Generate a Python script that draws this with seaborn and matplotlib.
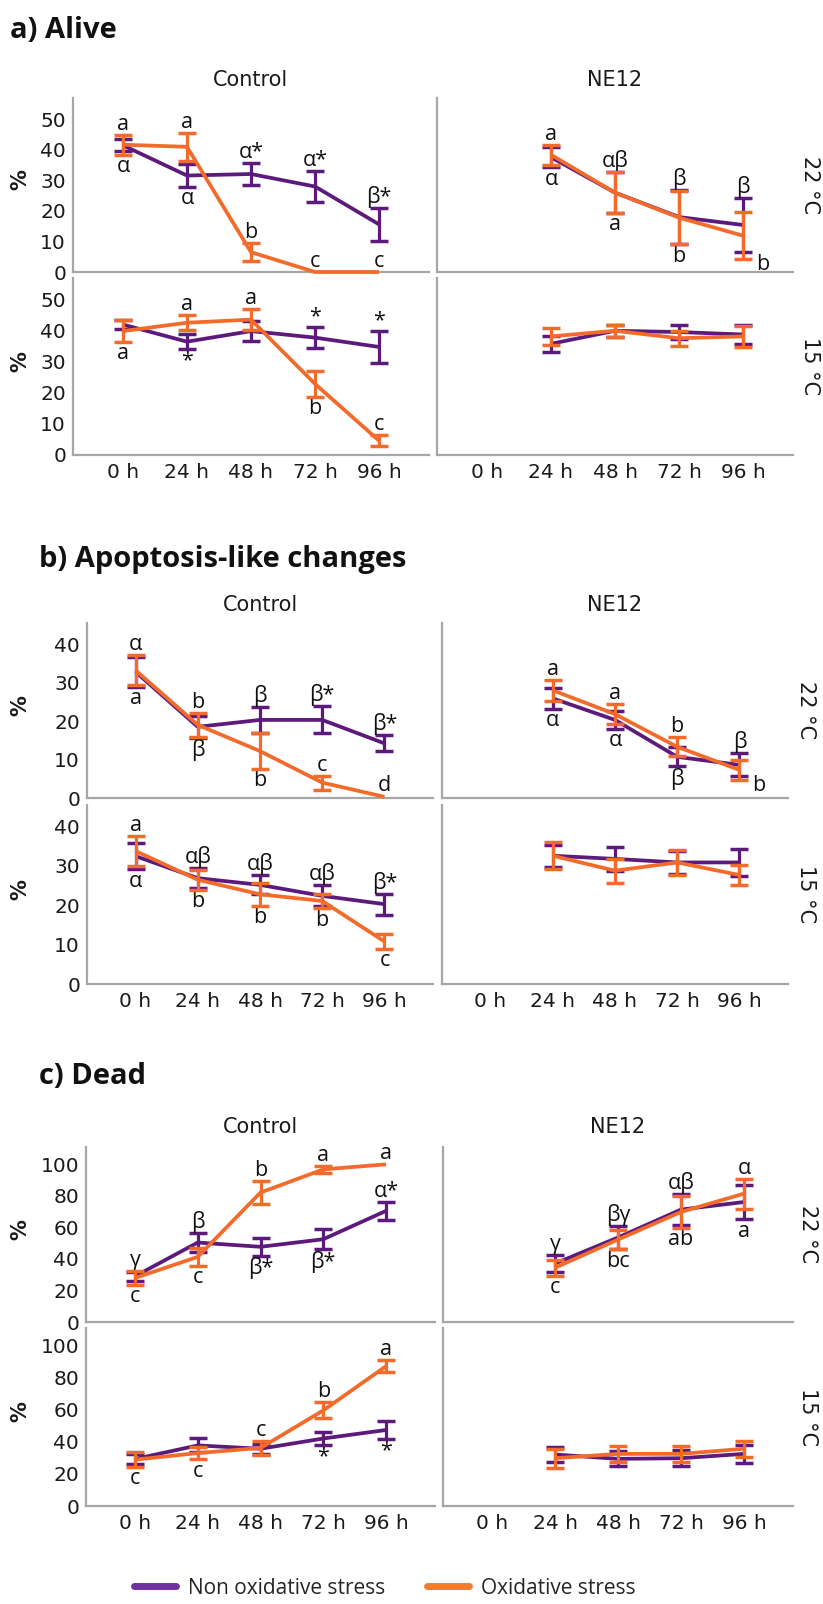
import numpy as np
import pandas as pd
import matplotlib
matplotlib.use("Agg")
import matplotlib.pyplot as plt
import seaborn as sns
from matplotlib.lines import Line2D

sns.set_theme(style="white")
plt.rcParams['font.family'] = ['DejaVu Sans']

# ---------------- data ----------------
TIMES = ["0 h", "24 h", "48 h", "72 h", "96 h"]
SERIES = ["Non oxidative stress", "Oxidative stress"]
COLUMNS = ["Control", "NE12"]
ROWS = ["22 °C", "15 °C"]

# a) Alive
alive_c22_non = [41.5, 31.6, 32.1, 28.0, 15.6]
alive_c22_non_err = [2.0, 3.7, 3.6, 5.2, 5.4]
alive_c22_ox = [41.7, 41.0, 6.5, 0.0, 0.0]
alive_c22_ox_err = [3.3, 4.5, 3.0, 0.0, 0.0]
alive_c22_non_lbl = ["α", "α", "α*", "α*", "β*"]
alive_c22_ox_lbl = ["a", "a", "b", "c", "c"]

alive_c15_non = [42.0, 36.5, 39.9, 37.8, 34.8]
alive_c15_non_err = [1.5, 2.4, 3.1, 3.5, 5.2]
alive_c15_ox = [39.9, 42.6, 43.6, 22.9, 4.6]
alive_c15_ox_err = [3.5, 2.4, 3.3, 4.2, 1.8]
alive_c15_non_lbl = ["", "*", "", "*", "*"]
alive_c15_ox_lbl = ["a", "a", "a", "b", "c"]

alive_n22_non = [None, 37.6, 26.0, 18.0, 15.4]
alive_n22_non_err = [0, 3.3, 6.7, 8.7, 8.9]
alive_n22_ox = [None, 38.4, 26.0, 17.8, 11.9]
alive_n22_ox_err = [0, 3.2, 6.7, 8.7, 7.7]
alive_n22_non_lbl = ["", "α", "αβ", "β", "β"]
alive_n22_ox_lbl = ["", "a", "a", "b", "b"]

alive_n15_non = [None, 35.8, 40.0, 39.6, 38.8]
alive_n15_non_err = [0, 2.5, 2.0, 2.4, 3.2]
alive_n15_ox = [None, 38.2, 40.0, 37.6, 38.2]
alive_n15_ox_err = [0, 2.8, 2.0, 2.4, 3.5]

# b) Apoptosis-like changes
apo_c22_non = [32.8, 18.5, 20.3, 20.3, 14.2]
apo_c22_non_err = [3.9, 2.8, 3.3, 3.5, 2.1]
apo_c22_ox = [33.2, 19.0, 12.2, 4.0, 0.3]
apo_c22_ox_err = [3.9, 3.2, 4.6, 1.8, 0.3]
apo_c22_non_lbl = ["α", "β", "β", "β*", "β*"]
apo_c22_ox_lbl = ["a", "b", "b", "c", "d"]

apo_c15_non = [32.5, 26.9, 25.2, 22.4, 20.3]
apo_c15_non_err = [3.3, 2.6, 2.4, 2.7, 2.7]
apo_c15_ox = [33.8, 26.5, 22.8, 21.1, 10.8]
apo_c15_ox_err = [3.7, 2.5, 3.0, 1.9, 1.9]
apo_c15_non_lbl = ["α", "αβ", "αβ", "αβ", "β*"]
apo_c15_ox_lbl = ["a", "b", "b", "b", "c"]

apo_n22_non = [None, 25.9, 20.3, 10.7, 8.6]
apo_n22_non_err = [0, 2.7, 2.3, 2.5, 3.0]
apo_n22_ox = [None, 28.0, 21.8, 13.3, 7.3]
apo_n22_ox_err = [0, 2.7, 2.6, 2.5, 2.5]
apo_n22_non_lbl = ["", "α", "α", "β", "β"]
apo_n22_ox_lbl = ["", "a", "a", "b", "b"]

apo_n15_non = [None, 32.6, 31.8, 30.9, 30.9]
apo_n15_non_err = [0, 2.8, 3.0, 2.9, 3.4]
apo_n15_ox = [None, 32.6, 28.8, 30.9, 27.7]
apo_n15_ox_err = [0, 3.4, 3.0, 3.2, 2.6]

# c) Dead
dead_c22_non = [29.0, 50.4, 47.7, 52.5, 70.5]
dead_c22_non_err = [2.8, 6.0, 5.8, 6.4, 5.8]
dead_c22_ox = [27.9, 41.3, 82.1, 96.8, 100.0]
dead_c22_ox_err = [4.4, 5.6, 7.4, 2.0, 0.5]
dead_c22_non_lbl = ["γ", "β", "β*", "β*", "α*"]
dead_c22_ox_lbl = ["c", "c", "b", "a", "a"]

dead_c15_non = [29.3, 37.8, 35.7, 42.1, 47.4]
dead_c15_non_err = [3.0, 4.4, 3.0, 4.0, 5.5]
dead_c15_ox = [28.9, 33.0, 36.2, 59.6, 87.2]
dead_c15_ox_err = [4.5, 4.0, 4.5, 5.0, 3.6]
dead_c15_non_lbl = ["", "", "", "*", "*"]
dead_c15_ox_lbl = ["c", "c", "c", "b", "a"]

dead_n22_non = [None, 37.1, 53.6, 71.3, 76.1]
dead_n22_non_err = [0, 5.7, 7.4, 10.0, 10.9]
dead_n22_ox = [None, 34.4, 52.3, 69.8, 81.4]
dead_n22_ox_err = [0, 5.0, 6.3, 10.2, 9.5]
dead_n22_non_lbl = ["", "γ", "βγ", "αβ", "α"]
dead_n22_ox_lbl = ["", "c", "bc", "ab", "a"]

dead_n15_non = [None, 32.1, 29.4, 29.8, 32.5]
dead_n15_non_err = [0, 4.5, 4.7, 4.9, 5.6]
dead_n15_ox = [None, 29.8, 32.5, 32.5, 35.7]
dead_n15_ox_err = [0, 6.0, 5.0, 5.0, 5.1]

# ---------------- label placement (style, not data) ----------------
U, D, R, N = "above", "below", "right", ""
pos = {
    "alive_c22": ([D, D, U, U, U], [U, U, U, U, U]),
    "alive_c15": ([N, D, N, U, U], [D, U, U, D, U]),
    "alive_n22": ([N, D, U, U, U], [N, U, D, D, R]),
    "alive_n15": (None, None),
    "apo_c22": ([U, D, U, U, U], [D, U, D, U, U]),
    "apo_c15": ([D, U, U, U, U], [U, D, D, D, D]),
    "apo_n22": ([N, D, D, D, U], [N, U, U, U, R]),
    "apo_n15": (None, None),
    "dead_c22": ([U, U, D, D, U], [D, D, U, U, U]),
    "dead_c15": ([N, N, N, D, D], [D, D, U, U, U]),
    "dead_n22": ([N, U, U, U, U], [N, D, D, D, D]),
    "dead_n15": (None, None),
}

PURPLE = "#5C1A7C"
ORANGE = "#F26B2A"
SPINE = "#A6A6A6"
ANN_FONT = ['Open Sans', 'DejaVu Sans']
ANN_SIZE = 15.5

W, H = 823, 1604
fig = plt.figure(figsize=(W / 100, H / 100), dpi=100)


def box(x0, x1, y0, y1):
    return [x0 / W, 1 - y1 / H, (x1 - x0) / W, (y1 - y0) / H]


def anchor(own, other, p):
    """Error-bar end to attach a label to; jump past the other series if its bar overlaps."""
    ov, oe = own
    top, bot = ov + oe, ov - oe
    if other is not None:
        tv, te = other
        t2, b2 = tv + te, tv - te
        if p == U and t2 > top and b2 < top:
            top = t2
        if p == D and b2 < bot and t2 > bot:
            bot = b2
    return top, bot, ov - oe


def annotate(ax, x, own, other, lbl, p):
    if not lbl or not p:
        return
    top, bot, own_bot = anchor(own, other, p)
    kw = dict(textcoords="offset points", ha="center", fontsize=ANN_SIZE,
              family=ANN_FONT, color="#111111", annotation_clip=False)
    if p == U:
        ax.annotate(lbl, (x, top), xytext=(0, 0), va="bottom", **kw)
    elif p == D:
        ax.annotate(lbl, (x, bot), xytext=(0, -1), va="top", **kw)
    else:
        ax.annotate(lbl, (x, own_bot), xytext=(14, -4), va="center", **kw)


def draw(ax, key, ylim, yticks, show_y, show_x):
    g = globals()
    non, non_err = g[key + "_non"], g[key + "_non_err"]
    ox, ox_err = g[key + "_ox"], g[key + "_ox_err"]
    rows = []
    for i, v in enumerate(non):
        if v is not None:
            rows.append((i, v, SERIES[0]))
    for i, v in enumerate(ox):
        if v is not None:
            rows.append((i, v, SERIES[1]))
    df = pd.DataFrame(rows, columns=["t", "v", "g"])
    sns.lineplot(data=df, x="t", y="v", hue="g", hue_order=SERIES,
                 palette=[PURPLE, ORANGE], linewidth=2.7, legend=False,
                 errorbar=None, ax=ax)
    for k, ln in enumerate(ax.lines):
        ln.set_zorder(2 + 2 * k)
        ln.set_clip_on(False)
        ln.set_solid_capstyle("butt")
    for k, (vals, errs, col) in enumerate([(non, non_err, PURPLE), (ox, ox_err, ORANGE)]):
        idx = [i for i, v in enumerate(vals) if v is not None]
        vv = [vals[i] for i in idx]
        ee = [errs[i] if errs[i] > 0.6 else 0 for i in idx]
        eb = ax.errorbar(idx, vv, yerr=ee, fmt="none", ecolor=col,
                         elinewidth=2.3, capsize=6.5, capthick=2.5, zorder=3 + 2 * k)
        mask = np.array(ee) > 0
        for cap in eb.lines[1]:
            cap.set_clip_on(False)
            cap.set_xdata(np.array(cap.get_xdata())[mask])
            cap.set_ydata(np.array(cap.get_ydata())[mask])
        for art in eb.lines[2]:
            art.set_clip_on(False)
    p_non, p_ox = pos[key]
    if p_non is not None:
        for i in range(5):
            a = (non[i], non_err[i]) if non[i] is not None else None
            b = (ox[i], ox_err[i]) if ox[i] is not None else None
            if a is not None:
                annotate(ax, i, a, b, g[key + "_non_lbl"][i], p_non[i])
            if b is not None:
                annotate(ax, i, b, a, g[key + "_ox_lbl"][i], p_ox[i])
    ax.set_xlim(-0.78, 4.78)
    ax.set_ylim(0, ylim)
    ax.set_yticks(yticks)
    ax.set_xticks(range(5))
    ax.set_xticklabels(TIMES if show_x else [])
    if not show_y:
        ax.set_yticklabels([])
    ax.set_xlabel("")
    ax.set_ylabel("")
    for s in ["top", "right"]:
        ax.spines[s].set_visible(False)
    for s in ["left", "bottom"]:
        ax.spines[s].set_color(SPINE)
        ax.spines[s].set_linewidth(1.6)
    ax.tick_params(axis="both", length=0, labelsize=14.5, labelcolor="#1a1a1a")
    ax.tick_params(axis="x", pad=6)
    ax.tick_params(axis="y", pad=5)
    ax.set_facecolor("none")


LAYOUT = [
    dict(prefix="alive", title="a) Alive", tx=10, ty=31, hy=80,
         cx=(73, 429), nx=(437, 793), top=(98, 272), bot=(278, 455),
         ylim=57, yticks=list(range(0, 51, 10)), rx=810),
    dict(prefix="apo", title="b) Apoptosis-like changes", tx=39, ty=560, hy=605,
         cx=(87, 433), nx=(442, 788), top=(623, 798), bot=(805, 984),
         ylim=45.5, yticks=list(range(0, 41, 10)), rx=806),
    dict(prefix="dead", title="c) Dead", tx=39, ty=1077, hy=1127,
         cx=(86, 435), nx=(443, 793), top=(1147, 1322), bot=(1328, 1506),
         ylim=111, yticks=list(range(0, 101, 20)), rx=808),
]

for L in LAYOUT:
    fig.text(L["tx"] / W, 1 - L["ty"] / H, L["title"], fontsize=21, fontweight="bold",
             family=['Open Sans', 'DejaVu Sans'], ha="left", va="center", color="#111111")
    for ci, (colname, xr) in enumerate(zip(COLUMNS, [L["cx"], L["nx"]])):
        fig.text((xr[0] + xr[1]) / 2 / W, 1 - L["hy"] / H, colname, fontsize=15,
                 ha="center", va="center", color="#1a1a1a")
        for ri, (rowname, yr) in enumerate(zip(ROWS, [L["top"], L["bot"]])):
            ax = fig.add_axes(box(xr[0], xr[1], yr[0], yr[1]))
            key = "%s_%s%s" % (L["prefix"], "c" if ci == 0 else "n", "22" if ri == 0 else "15")
            draw(ax, key, L["ylim"], L["yticks"], show_y=(ci == 0), show_x=(ri == 1))
            if ci == 0:
                fig.text(20 / W, 1 - ((yr[0] + yr[1]) / 2 - 5) / H, "%", rotation=90,
                         fontsize=15, fontweight="bold", ha="center", va="center",
                         color="#1a1a1a")
            else:
                fig.text(L["rx"] / W, 1 - (yr[0] + yr[1]) / 2 / H, rowname, rotation=-90,
                         fontsize=15, ha="center", va="center", color="#1a1a1a")

handles = [Line2D([0], [0], color="#7030A0", lw=5),
           Line2D([0], [0], color="#ED7D31", lw=5)]
fig.legend(handles, SERIES, loc="center", bbox_to_anchor=(385 / W, 1 - 1588 / H),
           ncol=2, frameon=False, handlelength=2.0, columnspacing=2.0,
           handletextpad=0.6, prop={'family': ['Open Sans', 'DejaVu Sans'], 'size': 15})

fig.savefig("out.png", dpi=100, facecolor="white")
